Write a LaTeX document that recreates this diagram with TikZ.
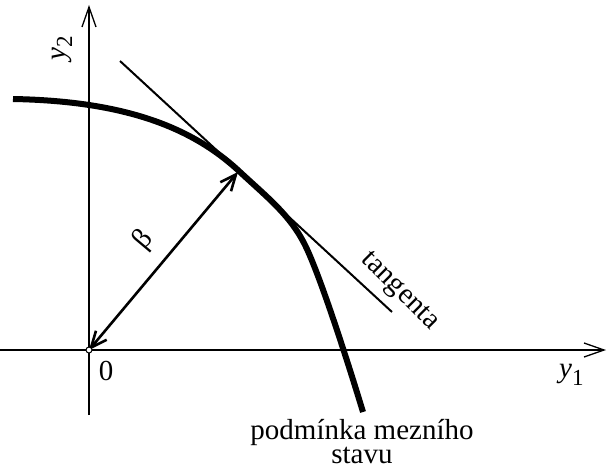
\documentclass[tikz,border=0pt]{standalone}
\usepackage{fontspec}
\setmainfont{Liberation Serif}
\usetikzlibrary{arrows.meta}
\begin{document}
\begin{tikzpicture}[x=1pt,y=-1pt,
  axis/.style={line width=1.3pt, -{Straight Barb[length=20pt,width=14pt,line width=1.3pt]}},
  lbl/.style={font=\fontsize{29}{25}\selectfont, inner sep=0pt},
  curvestyle/.style={line width=6pt, line cap=butt},
  tangline/.style={line width=2pt},
  radius/.style={line width=2.6pt, {Straight Barb[length=16pt,width=14pt,line width=2.6pt]}-{Straight Barb[length=16pt,width=14pt,line width=2.6pt]}}]
\useasboundingbox (0,0) rectangle (607,468);
% axes
\coordinate (xs) at (0,350);
\coordinate (xe) at (606,350);
\coordinate (ys) at (89,415);
\coordinate (ye) at (89,5);
\draw[axis] (xs) -- (xe);
\draw[axis] (ys) -- (ye);
% limit state curve
\coordinate (c0) at (13,99);
\coordinate (c1) at (240,172);
\coordinate (c2) at (305,245);
\coordinate (c3) at (363,412);
\draw[curvestyle] (c0) .. controls (120,101) and (190,125) .. (c1)
  .. controls (268,198) and (290,215) .. (c2)
  .. controls (320,275) and (348.5,364.1) .. (c3);
% tangent
\coordinate (ta) at (120,61);
\coordinate (tb) at (392,312);
\draw[tangline] (ta) -- (tb);
% origin and design point
\coordinate (O) at (89,350);
\coordinate (T) at (238,172);
\draw[radius] (O) -- (T);
\draw[line width=1pt, fill=white] (O) circle (3);
% labels
\node[lbl, rotate=90] (ly2) at (62,48) {\textit{y}\raisebox{-7pt}{\fontsize{23}{23}\selectfont 2}};
\node[lbl, anchor=base west] (ly1) at (559,377) {\textit{y}\raisebox{-8pt}{\fontsize{23}{23}\selectfont 1}};
\node[lbl, anchor=base] (l0) at (106,380) {0};
\node[lbl, rotate=50] (lbeta) at (144,240) {β};
\node[lbl, rotate=-45] (ltan) at (399,292) {tangenta};
\node[lbl, anchor=base] (lc1) at (362,439) {podmínka mezního};
\node[lbl, anchor=base] (lc2) at (362,463) {stavu};
\end{tikzpicture}
\end{document}
